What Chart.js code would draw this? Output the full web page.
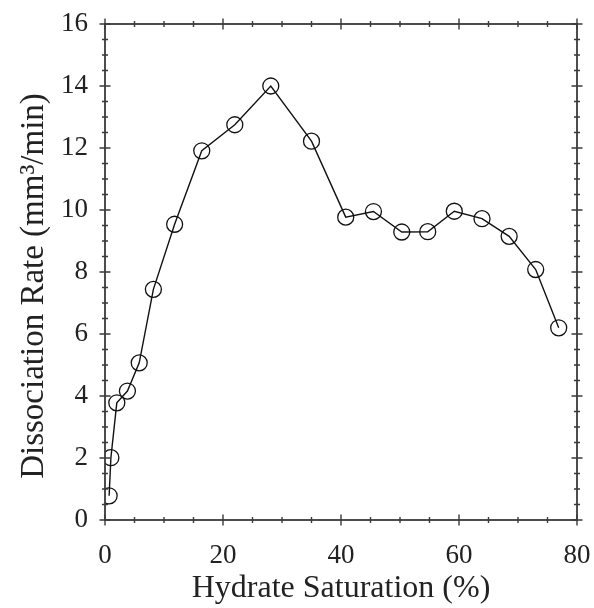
<!DOCTYPE html>
<html>
<head>
<meta charset="utf-8">
<script src="https://cdn.jsdelivr.net/npm/chart.js@4"></script>
<style>
  html, body { margin: 0; padding: 0; background: #fff; }
  #wrap { width: 594px; height: 608px; }
</style>
</head>
<body>
<div id="wrap"><canvas id="rateChart" width="594" height="608"></canvas></div>
<script>
// values
const saturation = [0.7, 1.0, 2.0, 3.8, 5.8, 8.2, 11.8, 16.4, 22.0, 28.1, 35.0, 40.8, 45.5, 50.3, 54.7, 59.2, 63.9, 68.5, 73.0, 76.9];
const rate = [0.78, 2.01, 3.78, 4.16, 5.07, 7.44, 9.54, 11.91, 12.75, 14.0, 12.22, 9.77, 9.95, 9.29, 9.3, 9.96, 9.72, 9.15, 8.08, 6.2];
const xTicks = [0, 20, 40, 60, 80];
const yTicks = [0, 2, 4, 6, 8, 10, 12, 14, 16];
const yTitle = "Dissociation Rate (mm³/min)";

const axisColor = "#3a3a3a";
const textColor = "#222";
const serif = "'Liberation Serif', 'DejaVu Serif', serif";

// frame with crossing major/minor ticks on all four sides, plus the y title
const framePlugin = {
    id: "frame",
    afterDatasetsDraw(chart) {
        const ctx = chart.ctx;
        const a = chart.chartArea;
        const xs = chart.scales.x, ys = chart.scales.y;
        ctx.save();
        ctx.strokeStyle = axisColor;
        ctx.lineWidth = 1.8;
        ctx.strokeRect(a.left, a.top, a.right - a.left, a.bottom - a.top);
        ctx.lineWidth = 1.4;
        ctx.beginPath();
        for (let v = 0; v <= 80; v += 5) {
            const px = xs.getPixelForValue(v);
            const len = v % 20 === 0 ? 5.5 : 3;
            ctx.moveTo(px, a.bottom - len); ctx.lineTo(px, a.bottom + len);
            ctx.moveTo(px, a.top - len); ctx.lineTo(px, a.top + len);
        }
        for (let v = 0; v <= 16; v += 0.5) {
            const py = ys.getPixelForValue(v);
            const len = v % 2 === 0 ? 5.5 : 3;
            ctx.moveTo(a.left - len, py); ctx.lineTo(a.left + len, py);
            ctx.moveTo(a.right - len, py); ctx.lineTo(a.right + len, py);
        }
        ctx.stroke();

        // y title sits a bit lower than the plot centre in the original
        ctx.translate(34, (a.top + a.bottom) / 2 + 14);
        ctx.rotate(-Math.PI / 2);
        ctx.fillStyle = textColor;
        ctx.font = "33px " + serif;
        ctx.textAlign = "center";
        ctx.textBaseline = "middle";
        ctx.fillText(yTitle, 0, 0);
        ctx.restore();
    }
};

new Chart(document.getElementById("rateChart"), {
    type: "scatter",
    data: {
        datasets: [{
            data: saturation.map((s, i) => ({ x: s, y: rate[i] })),
            showLine: true,
            borderColor: "#111",
            borderWidth: 1.4,
            tension: 0,
            pointRadius: 8,
            pointBorderWidth: 1.3,
            pointBorderColor: "#111",
            pointBackgroundColor: "rgba(0,0,0,0)"
        }]
    },
    options: {
        responsive: false,
        animation: false,
        layout: { padding: { top: 24, right: 17, left: 0, bottom: 0 } },
        plugins: { legend: { display: false }, tooltip: { enabled: false } },
        scales: {
            x: {
                type: "linear", min: 0, max: 80,
                afterBuildTicks: s => { s.ticks = xTicks.map(v => ({ value: v })); },
                afterFit: s => { s.height = 88; s.paddingLeft = 0; s.paddingRight = 0; },
                grid: { display: false, drawTicks: false },
                border: { display: false },
                ticks: { color: textColor, padding: 20, font: { family: serif, size: 27 } },
                title: { display: true, text: "Hydrate Saturation (%)", color: textColor, padding: { top: 0, bottom: 0 }, font: { family: serif, size: 32 } }
            },
            y: {
                type: "linear", min: 0, max: 16,
                afterBuildTicks: s => { s.ticks = yTicks.map(v => ({ value: v })); },
                afterFit: s => { s.width = 105; s.paddingTop = 0; s.paddingBottom = 0; },
                grid: { display: false, drawTicks: false },
                border: { display: false },
                ticks: { color: textColor, padding: 17, font: { family: serif, size: 27 } },
                title: { display: false }
            }
        }
    },
    plugins: [framePlugin]
});
</script>
</body>
</html>
